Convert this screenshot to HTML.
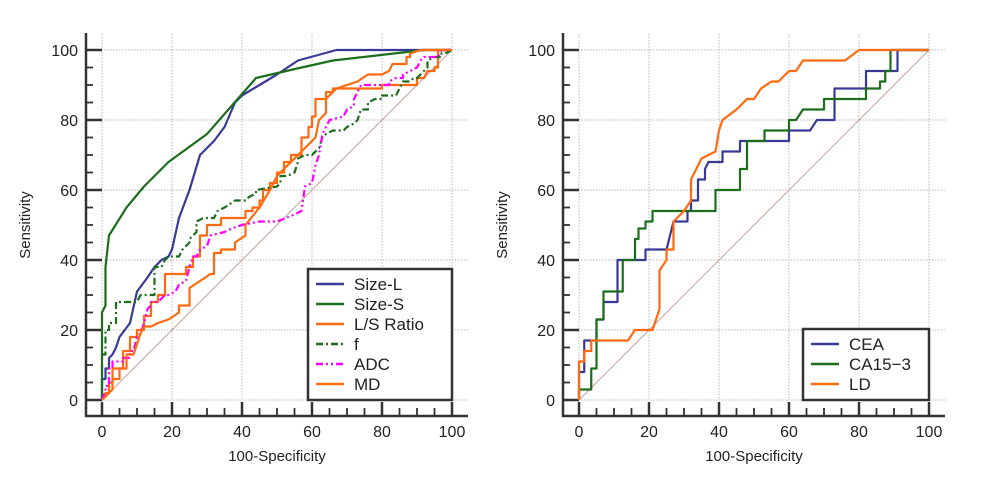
<!DOCTYPE html>
<html><head><meta charset="utf-8">
<style>
html,body{margin:0;padding:0;background:#fff;}
svg{display:block;font-family:"Liberation Sans",Arial,sans-serif;}
</style></head>
<body>
<svg id="chart" width="991" height="477" viewBox="0 0 991 477" xmlns="http://www.w3.org/2000/svg"></svg>
<script>
// ---- Data: left panel ----
const leftNames = ["Size-L","Size-S","L/S  Ratio","f","ADC","MD"];
const sizeL = [[0,0],[0,6],[1,6],[1,9],[2,9],[2,12],[3,13],[4,15],[5,18],[8,22],[10,31],[13,35],[15,38],[17,40],[19,41],[20,43],[22,52],[25,60],[28,70],[32,74],[35,78],[38,85],[40,87],[45,90],[50,93],[56,97],[67,100],[100,100]];
const sizeS = [[0,0],[0,25],[1,27],[1,38],[2,47],[7,55],[12,61],[19,68],[30,76],[44,92],[57,95],[66,97],[92,100],[100,100]];
const lsRatio = [[0,0],[1,2],[2,2],[2,5],[3,5],[3,9],[6,9],[6,14],[8,14],[8,18],[10,18],[10,20],[12,20],[12,24],[14,24],[14,28],[16,28],[16,30],[18,30],[18,36],[24,36],[24,38],[26,38],[26,41],[28,41],[28,47],[30,47],[30,50],[34,50],[34,52],[41,52],[41,54],[43,54],[43,55],[45,55],[45,57],[46,57],[46,60],[48,60],[48,62],[50,62],[50,65],[52,65],[52,68],[54,68],[54,70],[57,70],[57,75],[59,75],[59,78],[60,78],[60,81],[61,81],[61,86],[64,86],[64,88],[66,88],[66,89],[80,89],[80,90],[90,90],[90,92],[92,92],[93,94],[95,94],[95,95],[96,95],[96,100],[100,100]];
const fVals = [[0,0],[0,13],[1,13],[1,20],[2,20],[2,22],[4,22],[4,28],[10,28],[11,30],[15,30],[15,38],[17,38],[18,40],[19,41],[22,41],[23,43],[25,45],[25,46],[27,48],[27,51],[29,52],[32,52],[33,54],[35,55],[38,57],[41,57],[42,58],[44,59],[44,60],[50,61],[51,62],[51,64],[53,64],[55,65],[56,68],[56,69],[58,70],[60,70],[62,72],[63,75],[64,76],[66,77],[69,77],[70,78],[72,79],[73,80],[74,83],[76,83],[76,85],[78,86],[80,86],[80,87],[84,87],[85,89],[86,91],[88,91],[89,92],[90,92],[91,93],[93,95],[93,97],[95,98],[97,98],[97,99],[98,99],[100,100]];
const adc = [[0,0],[1,3],[1,4],[2,4],[2,9],[3,9],[3,11],[6,11],[6,12],[8,12],[8,14],[9,14],[10,18],[11,19],[12,22],[13,26],[14,27],[14,28],[16,28],[18,30],[19,30],[21,31],[22,33],[24,34],[25,38],[26,41],[27,41],[28,43],[30,44],[31,47],[35,48],[37,49],[40,50],[45,51],[50,51],[55,53],[57,54],[58,61],[60,62],[61,67],[62,70],[63,76],[64,78],[65,80],[69,81],[70,83],[72,84],[72,86],[73,88],[74,90],[82,90],[82,91],[84,92],[86,92],[86,93],[88,94],[90,95],[91,97],[92,98],[96,98],[97,100],[100,100]];
const md = [[0,0],[1,1],[3,3],[3,6],[5,6],[5,9],[7,9],[7,13],[9,13],[10,16],[11,19],[12,21],[14,21],[16,22],[19,23],[22,25],[22,27],[25,27],[25,32],[31,36],[32,36],[32,42],[34,42],[34,43],[38,43],[38,45],[41,47],[41,50],[45,55],[48,60],[50,64],[55,69],[61,75],[62,80],[64,82],[64,86],[67,89],[70,90],[73,91],[76,93],[80,93],[82,94],[83,96],[87,96],[87,98],[88,98],[88,99],[91,100],[100,100]];
// ---- Data: right panel ----
const rightNames = ["CEA","CA15\u22123","LD"];
const cea = [[0,0],[0,8],[1.5,8],[1.5,17],[3,17],[5,17],[5,23],[7,23],[7,28],[11,28],[11,40],[19,40],[19,43],[25,43],[27,51],[31,51],[31,54],[32,54],[32,57],[34,57],[34,63],[36,63],[36,66],[37,68],[41,68],[41,71],[46,71],[46,74],[60,74],[60,77],[66,77],[68,80],[73,80],[73,89],[82,89],[82,94],[91,94],[91,100],[100,100]];
const ca153 = [[0,0],[0,3],[3.5,3],[3.5,9],[5,9],[5,23],[7,23],[7,31],[12.5,31],[12.5,40],[16,40],[16,46],[17,46],[17,49],[19,49],[19,51],[21,51],[21,54],[39,54],[39,60],[46,60],[46,66],[48,66],[48,74],[53,74],[53,77],[60,77],[60,80],[62,80],[64,83],[70,83],[70,86],[82,86],[82,89],[86,89],[86,91],[87.5,91],[87.5,94],[89,94],[89,100],[100,100]];
const ld = [[0,0],[0,11],[1.5,11],[1.5,14],[3.5,14],[3.5,17],[14,17],[16,20],[21,20],[22,23],[23,26],[23,37],[25,40],[25,43],[27,43],[27,51],[30,54],[32,57],[32,63],[35,69],[39,71],[40,77],[41,80],[45,83],[48,86],[50,86],[52,89],[55,91],[57,91],[60,94],[62,94],[64,97],[76,97],[80,100],[100,100]];
const ticks = [0,20,40,60,80,100];

const NS="http://www.w3.org/2000/svg";
const svg=document.getElementById('chart');
function mk(tag,attrs,parent){const e=document.createElementNS(NS,tag);for(const k in attrs)e.setAttribute(k,attrs[k]);(parent||svg).appendChild(e);return e;}

function panel(x0,pname,series,legend){
  const sx=v=>x0+v*3.5, sy=v=>400-v*3.5;
  const g=mk('g',{});
  
  
  for(const t of ticks){
    const gl=mk('line',{x1:sx(t),x2:sx(t),y1:sy(100)-16,y2:sy(0),stroke:'#b8b8b8','stroke-dasharray':'1.5,1.5','stroke-width':1},g);
    
    const gh=mk('line',{x1:x0-16,x2:sx(100)+16,y1:sy(t),y2:sy(t),stroke:'#b8b8b8','stroke-dasharray':'1.5,1.5','stroke-width':1},g);
    
  }
  const d=mk('line',{x1:sx(0),y1:sy(0),x2:sx(100),y2:sy(100),stroke:'#c9a0a0','stroke-width':1},g);
  
  const ax=x0-16;
  const ya=mk('line',{x1:ax,x2:ax,y1:33,y2:417,stroke:'#333','stroke-width':2.5},g);
  
  const xa=mk('line',{x1:ax-1,x2:sx(100)+16,y1:416,y2:416,stroke:'#333','stroke-width':2.5},g);
  
  for(let t=0;t<=100;t+=5){
    const major=t%20===0;
    const tk=mk('line',{x1:ax,x2:ax+(major?16:7),y1:sy(t),y2:sy(t),stroke:'#333','stroke-width':major?2.5:1.8},g);
    
    const tx=mk('line',{x1:sx(t),x2:sx(t),y1:416,y2:major?402:408,stroke:'#333','stroke-width':major?2.5:1.8},g);
    
  }
  for(const t of ticks){
    const yl=mk('text',{x:ax-8,y:sy(t)+6,'text-anchor':'end','font-size':16,fill:'#222'},g);
    yl.textContent=t;
    const xl=mk('text',{x:sx(t),y:437,'text-anchor':'middle','font-size':16,fill:'#222'},g);
    xl.textContent=t;
  }
  const xt=mk('text',{x:sx(50),y:461,'text-anchor':'middle','font-size':15,fill:'#222'},g);
  xt.textContent='100-Specificity';
  const yt=mk('text',{x:0,y:0,'text-anchor':'middle','font-size':15,fill:'#222',transform:`translate(${ax-56},225) rotate(-90)`},g);
  yt.textContent='Sensitivity';
  for(const s of series){
    const p=mk('polyline',{points:s.data.map(q=>sx(q[0])+','+sy(q[1])).join(' '),fill:'none',stroke:s.color,'stroke-width':2.2,'stroke-linejoin':'round','stroke-dasharray':s.dash||'none'},g);
    
  }
  const L=legend;
  const lg=mk('g',{},g);
  
  mk('rect',{x:L.x,y:L.y,width:L.w,height:L.h,fill:'#fff',stroke:'#333','stroke-width':2.5},lg);
  series.forEach((s,i)=>{
    const cy=L.y+15+i*20;
    const e=mk('g',{},lg);
    
    mk('line',{x1:L.x+8,x2:L.x+36,y1:cy,y2:cy,stroke:s.color,'stroke-width':2.5,'stroke-dasharray':s.dash||'none'},e);
    const t=mk('text',{x:L.x+46,y:cy+6,'font-size':17,fill:'#222','xml:space':'preserve'},e);
    t.textContent=s.label;
  });
}
panel(102,'left-roc-panel',[
  {key:'size-l',label:leftNames[0],data:sizeL,color:'#3a3a96'},
  {key:'size-s',label:leftNames[1],data:sizeS,color:'#1c6e1c'},
  {key:'ls-ratio',label:leftNames[2],data:lsRatio,color:'#ff6a10'},
  {key:'f',label:leftNames[3],data:fVals,color:'#1c6e1c',dash:'7,3,2,3'},
  {key:'adc',label:leftNames[4],data:adc,color:'#ff00ff',dash:'7,3,2,3,2,3'},
  {key:'md',label:leftNames[5],data:md,color:'#ff6a10'}
],{x:308,y:269,w:144,h:131});
panel(579,'right-roc-panel',[
  {key:'cea',label:rightNames[0],data:cea,color:'#3a3a96'},
  {key:'ca15-3',label:rightNames[1],data:ca153,color:'#1c6e1c'},
  {key:'ld',label:rightNames[2],data:ld,color:'#ff6a10'}
],{x:803,y:329,w:126,h:71});
</script>
</body></html>
